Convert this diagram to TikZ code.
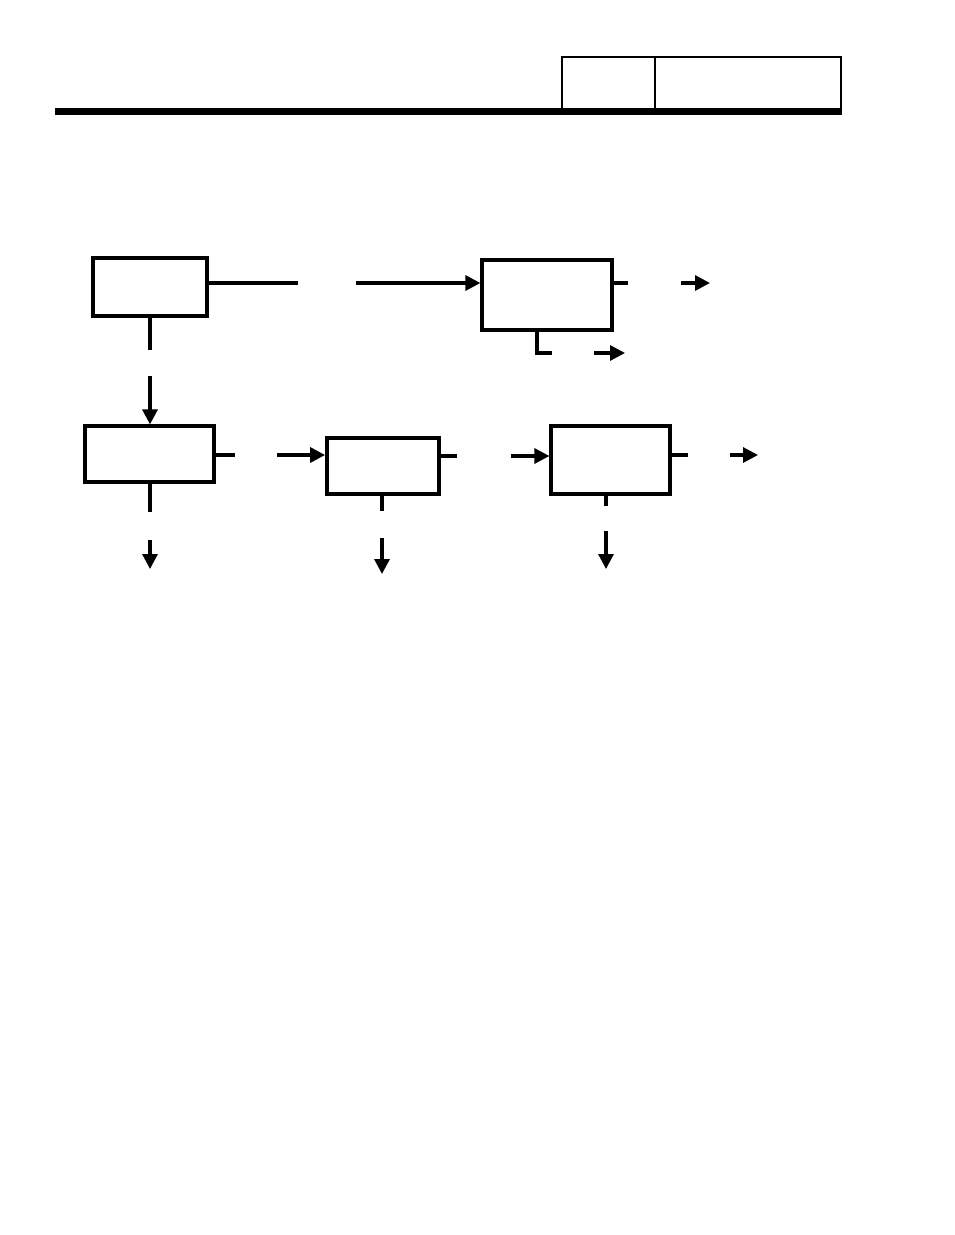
\documentclass[tikz,border=0pt]{standalone}
\usetikzlibrary{arrows.meta}

\tikzset{
  blk/.style={draw,line width=3.2pt,inner sep=0pt},
  ln/.style={line width=3.2pt},
  arr/.style={ln,-{Triangle[length=15pt,width=15pt]}}
}

\begin{document}
\begin{tikzpicture}[x=1pt,y=-1pt]
\useasboundingbox (0,0) rectangle (954,1235);
% header
\fill (55,108) rectangle (842,115);
\draw[line width=2.6pt] (562,110) |- (841,57) -- (841,110);
\draw[line width=2.6pt] (655,57) -- (655,110);
% boxes
\node[blk,minimum width=114pt,minimum height=58pt] (A) at (150,287) {};
\node[blk,minimum width=130pt,minimum height=70pt] (B) at (547,295) {};
\node[blk,minimum width=129pt,minimum height=56pt] (C) at (149.5,454) {};
\node[blk,line width=3.8pt,minimum width=112pt,minimum height=56pt] (D) at (383,466) {};
\node[blk,minimum width=119pt,minimum height=68pt] (E) at (610.5,460) {};
% free ends
\coordinate (a1) at (298,283);
\coordinate (a2) at (356,283);
\coordinate (b1) at (628,283);
\coordinate (b2) at (681,283);
\coordinate (b3) at (710,283);
\coordinate (b4) at (552,353);
\coordinate (b5) at (594,353);
\coordinate (b6) at (625,353);
\coordinate (a3) at (150,350);
\coordinate (a4) at (150,376);
\coordinate (c1) at (235,455);
\coordinate (c2) at (277,455);
\coordinate (d1) at (457,456);
\coordinate (d2) at (511,456);
\coordinate (e1) at (688,455);
\coordinate (e2) at (730,455);
\coordinate (e3) at (758,455);
\coordinate (c3) at (150,512);
\coordinate (c4) at (150,540);
\coordinate (c5) at (150,569);
\coordinate (d3) at (382,511);
\coordinate (d4) at (382,538);
\coordinate (d5) at (382,574);
\coordinate (e4) at (606,506);
\coordinate (e5) at (606,531);
\coordinate (e6) at (606,569);
% connectors
\draw[ln] (A.east |- a1) -- (a1);
\draw[arr] (a2) -- (B.west |- a2);
\draw[ln] (B.east |- b1) -- (b1);
\draw[arr] (b2) -- (b3);
\draw[ln] (B.south -| 537,0) |- (b4);
\draw[arr] (b5) -- (b6);
\draw[ln] (A.south) -- (a3);
\draw[arr] (a4) -- (C.north -| a4);
\draw[ln] (C.east |- c1) -- (c1);
\draw[arr] (c2) -- (D.west |- c2);
\draw[ln] (D.east |- d1) -- (d1);
\draw[arr] (d2) -- (E.west |- d2);
\draw[ln] (E.east |- e1) -- (e1);
\draw[arr] (e2) -- (e3);
\draw[ln] (C.south -| c3) -- (c3);
\draw[arr] (c4) -- (c5);
\draw[ln] (D.south -| d3) -- (d3);
\draw[arr] (d4) -- (d5);
\draw[ln] (E.south -| e4) -- (e4);
\draw[arr] (e5) -- (e6);
\end{tikzpicture}
\end{document}
